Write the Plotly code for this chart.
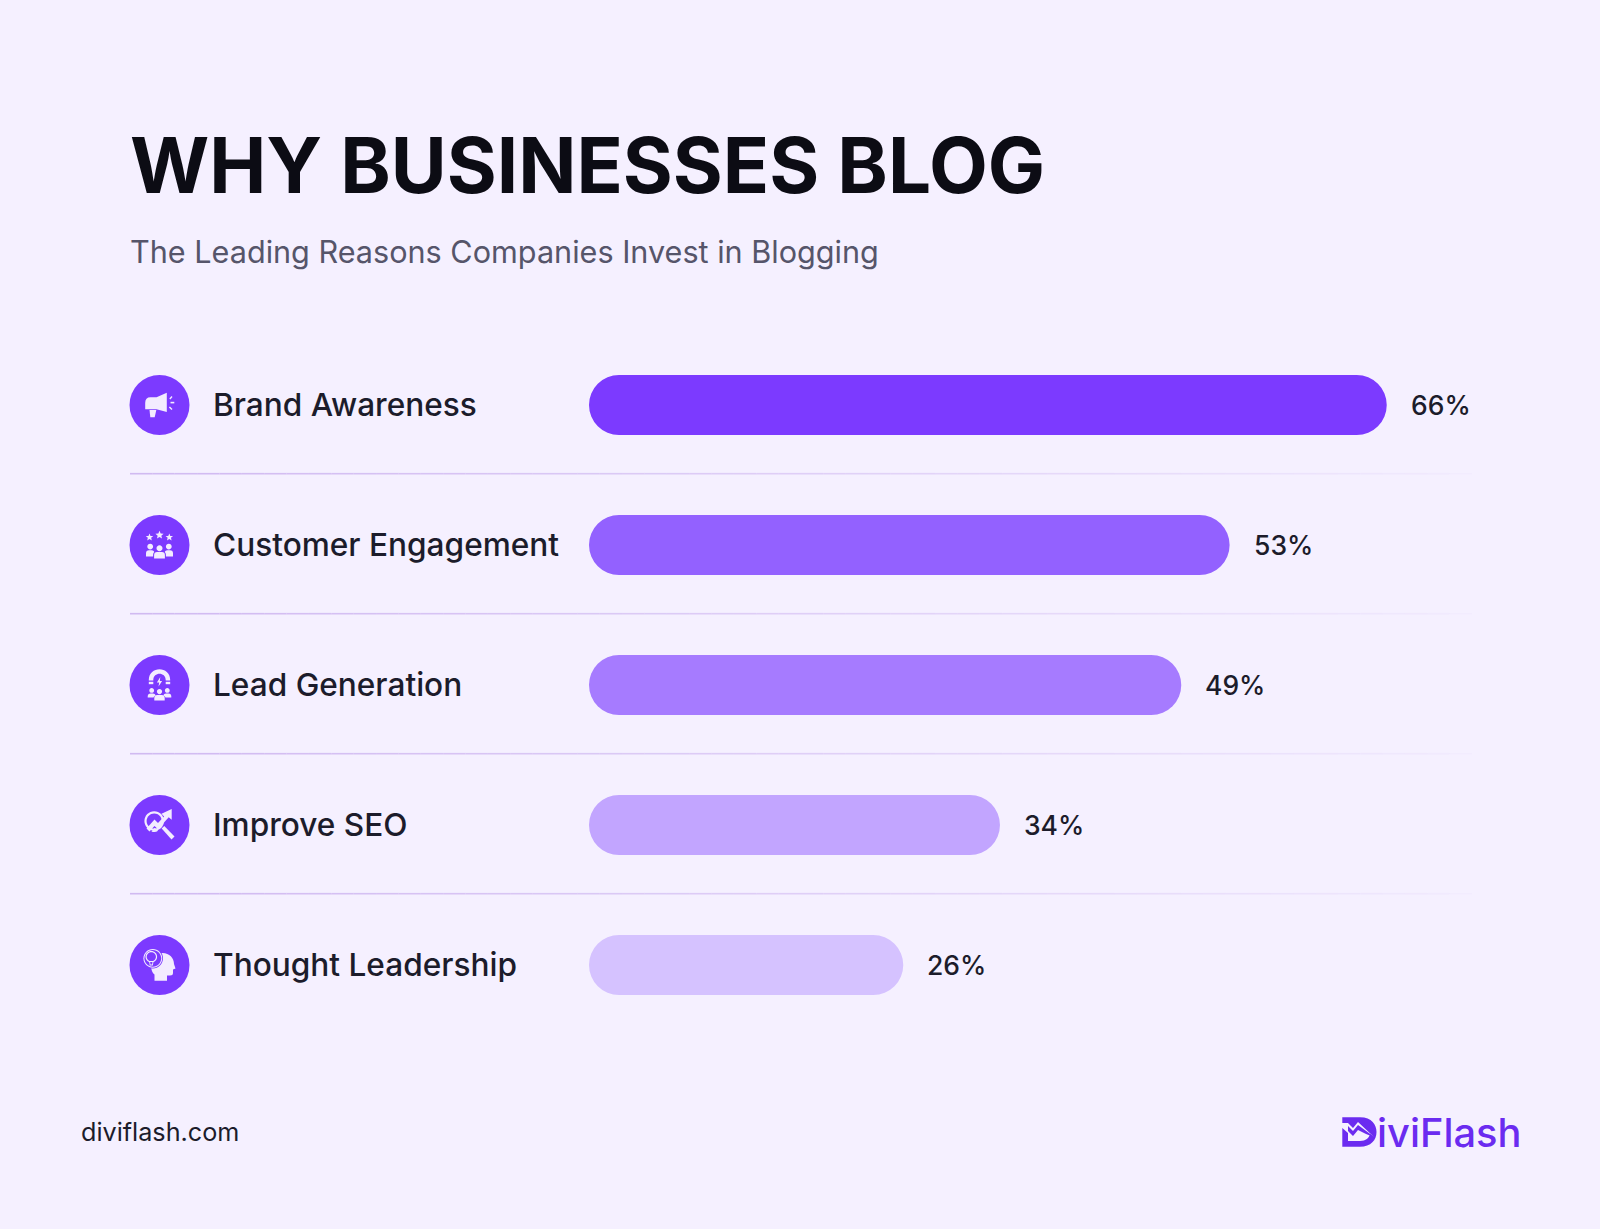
import math
import re
import plotly.graph_objects as go

reasons = ["Brand Awareness", "Customer Engagement", "Lead Generation", "Improve SEO", "Thought Leadership"]
shares = [66, 53, 49, 34, 26]
bar_colors = ["#7C3AFF", "#9361FF", "#A67BFF", "#C2A5FF", "#D5C2FF"]

title_text = "WHY BUSINESSES BLOG"
subtitle_text = "The Leading Reasons Companies Invest in Blogging"
site_text = "diviflash.com"
logo_text = "iviFlash"

BG = "#F5F0FF"
PURPLE = "#7C3AFF"
ICON = "#F3ECFF"
INK = "#1C1C2B"
FONT = "Inter"

W, H = 1600, 1229
ROW_Y = [405 + 140 * i for i in range(len(reasons))]
ICON_X = 159.5
PX_PER_PCT = 12.087


def shift(path, dx, dy):
    # move an absolute M/L/Q/C/Z path to a new origin
    out = []
    for cmd, args in re.findall(r"([MLQCZ])([^MLQCZ]*)", path):
        nums = [float(n) for n in re.findall(r"-?\d+\.?\d*", args)]
        pts = [f"{n + (dy if i % 2 else dx):.2f}" for i, n in enumerate(nums)]
        out.append(cmd + " ".join(pts))
    return " ".join(out)


def circle(x, y, r):
    k = 0.552 * r
    return (f"M{x - r} {y} C{x - r} {y - k} {x - k} {y - r} {x} {y - r} "
            f"C{x + k} {y - r} {x + r} {y - k} {x + r} {y} "
            f"C{x + r} {y + k} {x + k} {y + r} {x} {y + r} "
            f"C{x - k} {y + r} {x - r} {y + k} {x - r} {y} Z")


def star(x, y, r):
    pts = []
    for i in range(10):
        rad = r if i % 2 == 0 else r * 0.45
        a = -math.pi / 2 + i * math.pi / 5
        pts.append(f"{x + rad * math.cos(a):.2f} {y + rad * math.sin(a):.2f}")
    return "M" + " L".join(pts) + " Z"


def person(x, y, r, bw, bh):
    # head plus rounded shoulders
    top = y + r + 0.8
    body = (f"M{x - bw} {top + bh} L{x - bw} {top + 3} Q{x - bw} {top} {x - bw + 3} {top} "
            f"L{x + bw - 3} {top} Q{x + bw} {top} {x + bw} {top + 3} L{x + bw} {top + bh} Z")
    return circle(x, y, r) + " " + body


megaphone = [
    ("M-14.3 -2 Q-14.3 -7.7 -9 -7.7 L-3 -7.7 L7.3 -12.3 L7.3 7 L-3 4.3 L-14.3 4.3 Z", ICON),
    ("M-10 5 L-3.2 5 L-4.8 12.3 L-9.2 12.3 Z", ICON),
    ("M9.8 -6.6 L12 -9 L13 -8 L10.8 -5.6 Z", ICON),
    ("M11 -3.2 L14.8 -3.2 L14.8 -1.6 L11 -1.6 Z", ICON),
    ("M10.4 1.6 L13 4 L12 5 L9.4 2.6 Z", ICON),
]
crowd = [
    (star(-10, -7.7, 3.9), ICON),
    (star(0, -9.9, 4.3), ICON),
    (star(9.8, -7.7, 3.9), ICON),
    (person(-9.3, 1.6, 2.9, 4.2, 6.2), ICON),
    (person(9.3, 1.6, 2.9, 4.2, 6.2), ICON),
    (person(0, 2.6, 3.4, 6.4, 7), PURPLE),
    (person(0, 3.2, 3, 5.4, 6.6), ICON),
]
magnet = [
    ("M-10.7 -4.5 L-10.7 -5 C-10.7 -19.5 10.7 -19.5 10.7 -5 L10.7 -4.5 L6.2 -4.5 L6.2 -5 "
     "C6.2 -13.5 -6.2 -13.5 -6.2 -5 L-6.2 -4.5 Z", ICON),
    ("M-10.7 -3.2 L-6.2 -3.2 L-6.2 -0.8 L-10.7 -0.8 Z", ICON),
    ("M6.2 -3.2 L10.7 -3.2 L10.7 -0.8 L6.2 -0.8 Z", ICON),
    ("M0.8 -8 L-2.6 -2.6 L-0.3 -2.6 L-1 1.6 L2.6 -4 L0.3 -4 Z", ICON),
    (person(-7.8, 5.4, 2.4, 4, 4), ICON),
    (person(7.8, 5.4, 2.4, 4, 4), ICON),
    (person(0, 6.6, 3, 6, 6), PURPLE),
    (person(0, 6.6, 2.6, 5.2, 5.4), ICON),
]
seo = [
    (circle(-5.3, -4, 9.8), ICON),
    (circle(-5.3, -4, 7.6), PURPLE),
    ("M2.2 3.6 L4.8 1 L15 11.6 L12 14.6 Z", ICON),
    ("M-13 3.5 L-5 -5.5 L-1.5 -2 L4.6 -8.6 L2 -11.2 L12.2 -16 L12.2 -5.2 L9.2 -7.8 L-1.5 4.2 L-5 1 L-10 6.4 Z", ICON),
    ("M-8 6.4 L-4.8 2.8 L-1.4 5.8 Q-4.5 7.8 -8 6.4 Z", ICON),
]
thinker = [
    ("M-5 15.7 L-5 9.5 C-11 5 -9 -12 3 -12 C10 -12 14.5 -7 14.5 -1 L16 3.5 L13.5 4.5 L13.5 8 "
     "Q13.5 10.5 10.5 10.5 L7.5 10.5 L7.5 15.7 Z", ICON),
    (circle(-6.7, -6.7, 10.2), PURPLE),
    (circle(-6.7, -6.7, 9.4), ICON),
    (circle(-6.7, -6.7, 8.4), PURPLE),
    (circle(-8.2, -8.2, 5.8), ICON),
    (circle(-8.2, -8.2, 4.6), PURPLE),
    ("M-10.4 -4 L-6 -4 L-6.6 0.6 L-9.8 0.6 Z", ICON),
    ("M-9.4 -3 L-7 -3 L-7.4 -0.4 L-9 -0.4 Z", PURPLE),
]
icons = [megaphone, crowd, magnet, seo, thinker]

fig = go.Figure()

# the real chart: horizontal bars on a category axis
# a tiny base makes plotly round both ends of the bar, not only the far one
fig.add_trace(go.Bar(
    x=shares, y=reasons, base=1e-6, orientation="h",
    marker=dict(color=bar_colors, line_width=0),
    hoverinfo="skip", showlegend=False,
))

# icon discs, on a second pair of axes that measures the page in pixels
fig.add_trace(go.Scatter(
    x=[ICON_X] * len(reasons), y=ROW_Y, mode="markers",
    marker=dict(size=60, color=PURPLE, line_width=0),
    xaxis="x2", yaxis="y2", hoverinfo="skip", showlegend=False,
))

shapes = []


def add_path(path, color):
    shapes.append(dict(type="path", path=path, xref="x2", yref="y2",
                       fillcolor=color, line_width=0, layer="above"))


for row_y, icon in zip(ROW_Y, icons):
    for part, color in icon:
        add_path(shift(part, ICON_X, row_y), color)

# dividers fade out towards the right, plotly has no gradient so use short pieces
for row_y in ROW_Y[:-1]:
    y = row_y + 68.7
    steps = 60
    x0, x1 = 130, 1472
    for i in range(steps):
        t = i / (steps - 1)
        shapes.append(dict(
            type="line", xref="x2", yref="y2", layer="below",
            x0=x0 + (x1 - x0) * i / steps, x1=x0 + (x1 - x0) * (i + 1) / steps,
            y0=y, y1=y,
            line=dict(width=1.6, color=f"rgba(205,180,240,{0.85 * (1 - t) ** 0.8 + 0.06:.3f})"),
        ))

# logo mark
LOGO = "#6B2BF0"
add_path("M1342.3 1117.3 L1360 1117.3 C1372 1117.3 1376.5 1125 1376.5 1132 C1376.5 1140 1371 1146.7 1360 1146.7 "
         "L1342.3 1146.7 L1342.3 1128 L1348 1133 L1348 1141 L1360 1141 C1366 1141 1369 1138 1370 1134 "
         "L1374 1137 L1358 1122 L1353 1128 L1348 1123 L1342.3 1123 Z", LOGO)
add_path("M1348 1126 L1353 1131 L1358 1125 L1375 1137.5 L1366 1134 L1358 1130 L1353 1136 L1348 1131 Z", LOGO)

annotations = []


def add_text(x, y, text, size, color, weight=400):
    annotations.append(dict(
        x=x, y=y, xref="x2", yref="y2", text=text, showarrow=False,
        xanchor="left", yanchor="middle", align="left",
        font=dict(family=FONT, size=size, color=color, weight=weight),
    ))


add_text(127.5, 165, title_text, 76.4, "#0C0C14", 700)
add_text(127.5, 251, subtitle_text, 30.6, "#56556A", 400)
for reason, row_y in zip(reasons, ROW_Y):
    add_text(211, row_y - 0.8, reason, 31.6, INK, 500)
add_text(78.5, 1132, site_text, 25.2, INK, 400)
add_text(1374.5, 1132, logo_text, 39.8, LOGO, 500)

# value labels sit a fixed distance past the end of each bar
for reason, share in zip(reasons, shares):
    annotations.append(dict(
        x=share, y=reason, xref="x", yref="y", text=f"{share}%", showarrow=False,
        xanchor="left", yanchor="middle", xshift=22,
        font=dict(family=FONT, size=26.5, color=INK, weight=500),
    ))

fig.update_layout(
    width=W, height=H,
    margin=dict(l=0, r=0, t=0, b=0),
    paper_bgcolor=BG, plot_bgcolor="rgba(0,0,0,0)",
    bargap=80 / 140, barcornerradius=30,
    shapes=shapes, annotations=annotations,
    xaxis=dict(domain=[589 / W, 1], range=[0, (W - 589) / PX_PER_PCT], visible=False),
    yaxis=dict(domain=[1 - 1035 / H, 1 - 335 / H], range=[4.5, -0.5], type="category", visible=False),
    xaxis2=dict(domain=[0, 1], range=[0, W], visible=False, anchor="y2"),
    yaxis2=dict(domain=[0, 1], range=[H, 0], visible=False, anchor="x2"),
)

fig.write_html("out.html", config=dict(displayModeBar=False),
               post_script=f"document.body.style.margin='0';document.body.style.background='{BG}';")
